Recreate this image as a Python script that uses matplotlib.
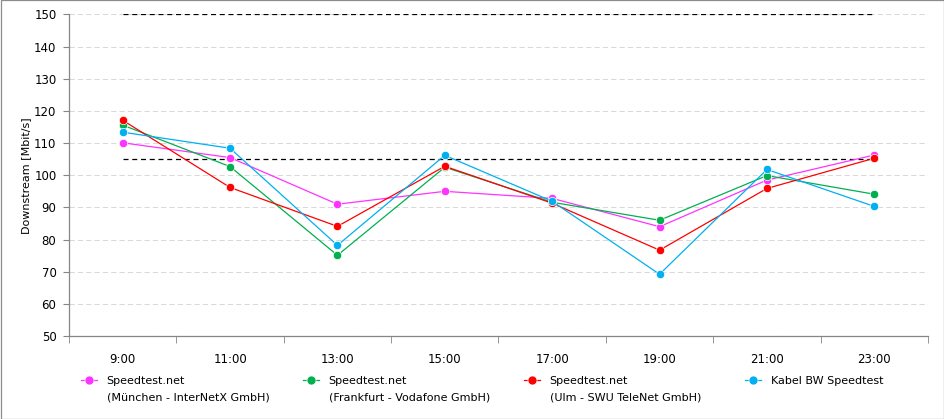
import matplotlib
matplotlib.use("Agg")
import matplotlib.pyplot as plt
from matplotlib.lines import Line2D
from matplotlib.patches import Rectangle
import numpy as np

times = ["9:00", "11:00", "13:00", "15:00", "17:00", "19:00", "21:00", "23:00"]
muenchen = [110.1, 105.5, 91.0, 95.0, 92.8, 84.0, 98.5, 106.3]
frankfurt = [115.6, 102.7, 75.1, 102.5, 91.6, 86.0, 99.9, 94.1]
ulm = [117.1, 96.2, 84.1, 102.8, 91.3, 76.7, 95.9, 105.3]
kabelbw = [113.4, 108.4, 78.2, 106.2, 91.9, 69.2, 101.8, 90.3]
ref_upper = 150
ref_lower = 105

series_labels = [
    ("Speedtest.net", "(München - InterNetX GmbH)"),
    ("Speedtest.net", "(Frankfurt - Vodafone GmbH)"),
    ("Speedtest.net", "(Ulm - SWU TeleNet GmbH)"),
    ("Kabel BW Speedtest", None),
]
colors = ["#FF33FF", "#00B050", "#FF0000", "#00B0F0"]
series = [muenchen, frankfurt, ulm, kabelbw]

W, H = 944, 419
fig = plt.figure(figsize=(W / 100, H / 100), dpi=100)
fig.patch.set_facecolor("white")
ax = fig.add_axes([69 / W, (H - 336) / H, 859 / W, (336 - 14.5) / H])

x = np.arange(len(times))

ax.set_ylim(50, 150)
ax.set_xlim(-0.5, len(times) - 0.5)
ax.set_yticks(np.arange(50, 151, 10))
ax.yaxis.grid(True, color="#d9d9d9", linestyle=(0, (5, 3)), linewidth=0.75)
ax.set_axisbelow(True)

# reference lines
ax.plot([x[0], x[-1]], [ref_upper, ref_upper], color="black", linestyle=(0, (4, 3)), linewidth=0.9, zorder=2)
ax.plot([x[0], x[-1]], [ref_lower, ref_lower], color="black", linestyle=(0, (4, 3)), linewidth=0.9, zorder=2)

handles = []
for vals, c in zip(series, colors):
    h, = ax.plot(x, vals, color=c, linewidth=0.9, marker="o", markersize=6,
                 markerfacecolor=c, markeredgecolor="white", markeredgewidth=0.5, zorder=3)
    handles.append(h)

for s in ["top", "right"]:
    ax.spines[s].set_visible(False)
for s in ["left", "bottom"]:
    ax.spines[s].set_color("#868686")
    ax.spines[s].set_linewidth(0.9)

ax.set_xticks(x)
ax.set_xticklabels(times)
ax.set_xticks(np.arange(-0.5, len(times), 1.0), minor=True)
ax.tick_params(axis="x", which="major", length=0, pad=12, labelsize=8.5)
ax.tick_params(axis="x", which="minor", length=5, color="#868686", direction="out")
ax.tick_params(axis="y", which="major", length=4, color="#868686", labelsize=8.5, pad=5)
ax.set_ylabel("Downstream [Mbit/s]", fontsize=8, labelpad=2)

# legend
leg_x = [81, 303, 524, 745]
line1_y = 381
legends = []
for i, (h, (l1, l2)) in enumerate(zip(handles, series_labels)):
    hd = Line2D([], [], color=h.get_color(), linewidth=0.9, marker="o", markersize=6.5,
                markerfacecolor=h.get_color(), markeredgecolor="white", markeredgewidth=0.5)
    lg = fig.legend([hd], [l1], loc="center left",
                    bbox_to_anchor=(leg_x[i] / W, (H - line1_y) / H),
                    frameon=False, fontsize=8, handlelength=1.4, handletextpad=0.9,
                    borderpad=0, borderaxespad=0)
    legends.append((lg, l2))

fig.canvas.draw()
r = fig.canvas.get_renderer()
for lg, l2 in legends:
    if l2 is None:
        continue
    t = lg.get_texts()[0]
    bb = t.get_window_extent(r)
    fig.text(bb.x0 / W, (bb.y0 + bb.y1) / 2 / H - 16 / H, l2, fontsize=8, va="center", ha="left")

fig.patches.append(Rectangle((0.5 / W, 0.5 / H), 1 - 1 / W, 1 - 1 / H, transform=fig.transFigure,
                             fill=False, edgecolor="#8c8c8c", linewidth=0.9, figure=fig))

fig.savefig("out.png", dpi=100)
